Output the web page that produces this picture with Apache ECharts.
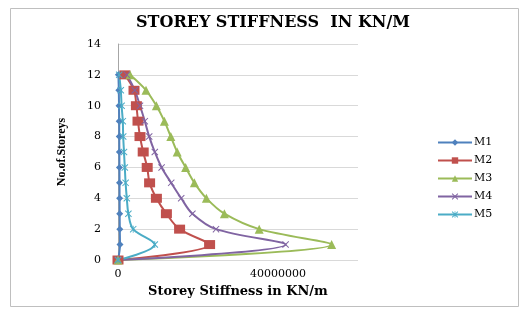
<!DOCTYPE html>
<html>
<head>
<meta charset="utf-8">
<script src="https://cdn.jsdelivr.net/npm/echarts@6/dist/echarts.min.js"></script>
<style>
  html, body { margin: 0; padding: 0; background: #fff; }
  #chart { width: 523px; height: 315px; }
</style>
</head>
<body>
<div id="chart"></div>
<script>
// storeys (y) and stiffness values (x) per model
var storeys = [0, 1, 2, 3, 4, 5, 6, 7, 8, 9, 10, 11, 12];
var seriesNames = ['M1', 'M2', 'M3', 'M4', 'M5'];
var m1 = [0, 500000, 450000, 420000, 400000, 380000, 360000, 340000, 320000, 300000, 250000, 200000, 100000];
var m2 = [0, 22900000, 15400000, 12100000, 9600000, 7900000, 7300000, 6300000, 5500000, 5000000, 4600000, 4000000, 1700000];
var m3 = [0, 53400000, 35300000, 26600000, 22100000, 19100000, 16900000, 14800000, 13200000, 11600000, 9600000, 7000000, 3000000];
var m4 = [0, 41900000, 24500000, 18600000, 15800000, 13300000, 10900000, 9200000, 7800000, 6700000, 5500000, 4200000, 2200000];
var m5 = [0, 9200000, 3800000, 2600000, 2200000, 1900000, 1700000, 1500000, 1300000, 1200000, 900000, 700000, 300000];
var allValues = [m1, m2, m3, m4, m5];
var colors = ['#4F81BD', '#C0504D', '#9BBB59', '#8064A2', '#4BACC6'];

var xShape = 'path://M0,1L1,0L5,4L9,0L10,1L6,5L10,9L9,10L5,6L1,10L0,9L4,5Z';
var starShape = 'path://M0,1L1,0L10,9L9,10Z M9,0L10,1L1,10L0,9Z M4.4,0L5.6,0L5.6,10L4.4,10Z';
var symbols = ['diamond', 'rect', 'triangle', xShape, starShape];
var symbolSizes = [7, [11, 9], 9, 7, 7];

var myChart = echarts.init(document.getElementById('chart'));

var series = seriesNames.map(function (name, i) {
    return {
        name: name,
        type: 'line',
        smooth: 0.35,
        symbol: symbols[i],
        symbolSize: symbolSizes[i],
        showAllSymbol: true,
        lineStyle: { width: 2, color: colors[i] },
        itemStyle: { color: colors[i] },
        data: storeys.map(function (s, k) { return [allValues[i][k], s]; })
    };
});

var option = {
    animation: false,
    color: colors,
    title: {
        text: 'STOREY STIFFNESS  IN KN/M',
        left: 268,
        textAlign: 'center',
        top: 10,
        textStyle: {
            fontFamily: 'DejaVu Serif',
            fontWeight: 'bold',
            fontSize: 16,
            color: '#000'
        }
    },
    legend: {
        orient: 'vertical',
        left: 432,
        top: 132,
        itemWidth: 34,
        itemHeight: 8,
        itemGap: 7,
        textStyle: { fontFamily: 'DejaVu Serif', fontSize: 11, color: '#000', padding: [0, 0, 0, -3] },
        data: seriesNames
    },
    graphic: [{
        type: 'rect',
        shape: { x: 10.5, y: 8.5, width: 508, height: 298 },
        style: { fill: 'none', stroke: '#bfbfbf', lineWidth: 1 },
        silent: true
    }],
    grid: { left: 118, right: 165, top: 44, bottom: 55 },
    xAxis: {
        type: 'value',
        min: 0,
        max: 60000000,
        interval: 20000000,
        name: 'Storey Stiffness in KN/m',
        nameLocation: 'middle',
        nameGap: 22,
        nameTextStyle: { fontFamily: 'DejaVu Serif', fontWeight: 'bold', fontSize: 13, color: '#000' },
        axisLine: { show: false },
        axisTick: { show: false },
        splitLine: { show: false },
        axisLabel: {
            fontFamily: 'DejaVu Serif',
            fontSize: 11,
            color: '#000',
            margin: 9,
            formatter: function (v) {
                return (v === 0 || v === 40000000) ? String(v) : '';
            }
        }
    },
    yAxis: {
        type: 'value',
        min: 0,
        max: 14,
        interval: 2,
        name: 'No.of.Storeys',
        nameLocation: 'middle',
        nameGap: 50,
        nameTextStyle: { fontFamily: 'Liberation Serif', fontWeight: 'bold', fontSize: 12, color: '#000' },
        axisLine: { show: true, lineStyle: { color: '#a6a6a6' } },
        axisTick: { show: false },
        splitLine: { lineStyle: { color: '#d9d9d9' } },
        axisLabel: { fontFamily: 'DejaVu Serif', fontSize: 11, color: '#000', margin: 17 }
    },
    series: series
};

myChart.setOption(option);
</script>
</body>
</html>
